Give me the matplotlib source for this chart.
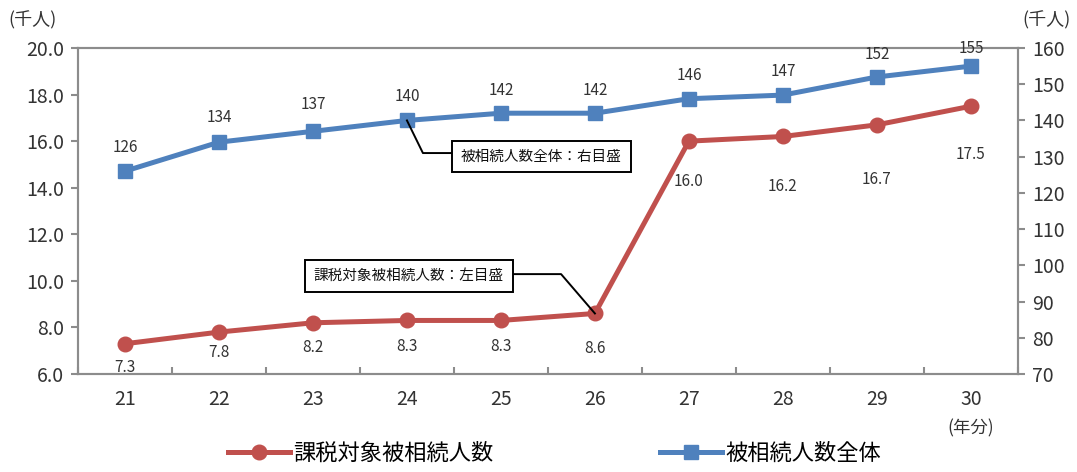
import matplotlib
matplotlib.use("Agg")
import matplotlib.pyplot as plt
from matplotlib.lines import Line2D

plt.rcParams['font.family'] = ['Noto Sans CJK JP', 'DejaVu Sans']

years = ["21", "22", "23", "24", "25", "26", "27", "28", "29", "30"]
taxable = [7.3, 7.8, 8.2, 8.3, 8.3, 8.6, 16.0, 16.2, 16.7, 17.5]
total = [126, 134, 137, 140, 142, 142, 146, 147, 152, 155]
left_ticks = [6.0, 8.0, 10.0, 12.0, 14.0, 16.0, 18.0, 20.0]
right_ticks = [70, 80, 90, 100, 110, 120, 130, 140, 150, 160]

RED = "#C0504D"
BLUE = "#4F81BD"
GREY = "#8C8C8C"
TXT = "#333333"

# label offsets (points) below / above the markers
red_off = [-17, -15, -18, -19, -19, -25, -29, -36, -39, -35]
blue_off = [17, 18, 19, 17, 16, 16, 17, 17, 16, 13]

fig = plt.figure(figsize=(10.77, 4.72), dpi=100)
ax = fig.add_axes([0.0724, 0.2076, 0.8727, 0.6907])
ax2 = ax.twinx()

x = list(range(len(years)))
ax.plot(x, taxable, color=RED, lw=3.6, marker="o", ms=10.5, zorder=3)
ax2.plot(x, total, color=BLUE, lw=3.6, marker="s", ms=10.5, zorder=3)

ax.set_xlim(-0.5, 9.5)
ax.set_ylim(6, 20)
ax2.set_ylim(70, 160)
ax.set_yticks(left_ticks)
ax.set_yticklabels([f"{v:.1f}" for v in left_ticks])
ax2.set_yticks(right_ticks)
ax2.set_yticklabels([str(v) for v in right_ticks])
ax.set_xticks(x)
ax.set_xticklabels(years)
ax.set_xticks([i + 0.5 for i in range(-1, 10)], minor=True)

for a in (ax, ax2):
    for s in a.spines.values():
        s.set_color(GREY)
        s.set_linewidth(1.5)
ax.tick_params(axis="y", colors=GREY, labelcolor=TXT, labelsize=14, length=5, width=1.5, direction="out", pad=5)
ax2.tick_params(axis="y", colors=GREY, labelcolor=TXT, labelsize=14, length=5, width=1.5, direction="out", pad=5)
ax.tick_params(axis="x", which="major", length=0, labelsize=14, labelcolor=TXT, pad=11)
ax.tick_params(axis="x", which="minor", length=5, width=1.5, colors=GREY, direction="in")

# data labels
for i, v in enumerate(taxable):
    ax.annotate(f"{v:.1f}", (i, v), xytext=(0, red_off[i]), textcoords="offset points",
                ha="center", va="center", fontsize=11, color=TXT)
for i, v in enumerate(total):
    ax2.annotate(str(v), (i, v), xytext=(0, blue_off[i]), textcoords="offset points",
                 ha="center", va="center", fontsize=11, color=TXT)

# callouts
box = dict(boxstyle="square,pad=0.6", fc="white", ec="black", lw=1.4)
ax2.plot([3, 3.17, 3.5], [140, 131.0, 131.0], color="black", lw=1.4, zorder=4)
ax2.text(4.43, 130.0, "被相続人数全体：右目盛", ha="center", va="center",
         fontsize=10.5, color="#111111", bbox=box, zorder=5)
ax.plot([4.0, 4.64, 5.0], [10.29, 10.29, 8.6], color="black", lw=1.4, zorder=4)
ax.text(3.02, 10.21, "課税対象被相続人数：左目盛", ha="center", va="center",
        fontsize=10.5, color="#111111", bbox=box, zorder=5)

fig.text(0.030, 0.957, "(千人)", ha="center", va="center", fontsize=13, color=TXT)
fig.text(0.972, 0.957, "(千人)", ha="center", va="center", fontsize=13, color=TXT)
fig.text(0.901, 0.093, "(年分)", ha="center", va="center", fontsize=12.5, color=TXT)

handles = [Line2D([], [], color=RED, lw=3.6, marker="o", ms=10.5),
           Line2D([], [], color=BLUE, lw=3.6, marker="s", ms=10.5)]
fig.legend(handles, ["課税対象被相続人数", "被相続人数全体"], loc="center",
           bbox_to_anchor=(0.515, 0.04), ncol=2, frameon=False, fontsize=16,
           columnspacing=7.5, handlelength=2.8, handletextpad=0.15)

fig.savefig("out.png", dpi=100)
